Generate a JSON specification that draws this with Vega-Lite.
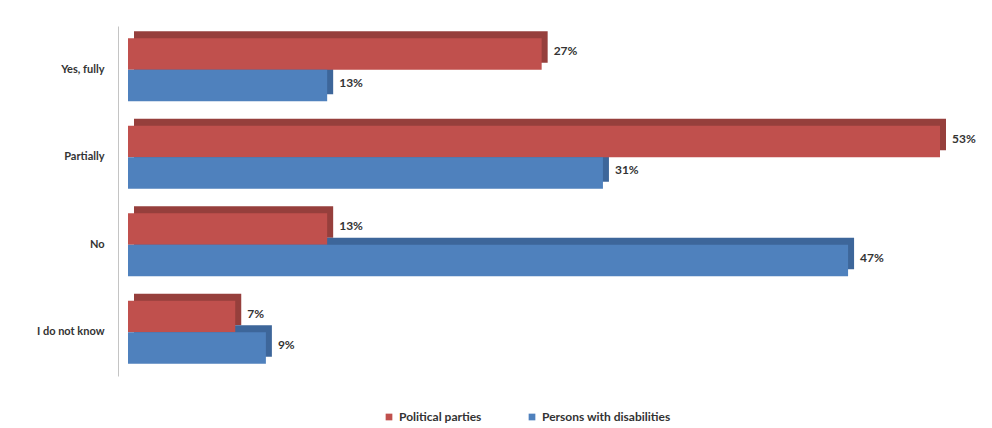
{
  "$schema": "https://vega.github.io/schema/vega-lite/v6.json",
  "width": 812,
  "height": 350,
  "autosize": {"type": "none"},
  "padding": {"left": 128, "top": 26, "right": 52, "bottom": 52},
  "background": "white",
  "config": {"view": {"stroke": null}, "font": "Lato"},
  "data": {"values": [
    {"category": "Yes, fully", "series": "Political parties", "value": 0.27},
    {"category": "Yes, fully", "series": "Persons with disabilities", "value": 0.13},
    {"category": "Partially", "series": "Political parties", "value": 0.53},
    {"category": "Partially", "series": "Persons with disabilities", "value": 0.31},
    {"category": "No", "series": "Political parties", "value": 0.13},
    {"category": "No", "series": "Persons with disabilities", "value": 0.47},
    {"category": "I do not know", "series": "Political parties", "value": 0.07},
    {"category": "I do not know", "series": "Persons with disabilities", "value": 0.09}
  ]},
  "resolve": {"scale": {"y": "independent", "yOffset": "independent"}},
  "layer": [
    {
      "mark": {"type": "bar", "xOffset": 6},
      "encoding": {
        "y": {"field": "category", "type": "nominal", "sort": ["Yes, fully", "Partially", "No", "I do not know"],
          "scale": {"paddingInner": 0.28, "paddingOuter": 0.14, "range": [-7, 343]},
          "axis": null},
        "yOffset": {"field": "series", "type": "nominal", "sort": ["Political parties", "Persons with disabilities"]},
        "x": {"field": "value", "type": "quantitative", "scale": {"domain": [0, 0.53], "nice": false}, "axis": null},
        "color": {"condition": {"test": "datum.series === 'Political parties'", "value": "#963f3c"}, "value": "#3d669a"}
      }
    },
    {
      "encoding": {
        "y": {"field": "category", "type": "nominal", "sort": ["Yes, fully", "Partially", "No", "I do not know"],
          "scale": {"paddingInner": 0.28, "paddingOuter": 0.14},
          "axis": {"title": null, "ticks": false, "domain": true, "domainColor": "#c4c4c4", "offset": 10, "labelPadding": 14, "labelFontSize": 11, "labelFontWeight": "bold", "labelColor": "#333333", "labelFont": "Lato"}},
        "yOffset": {"field": "series", "type": "nominal", "sort": ["Political parties", "Persons with disabilities"]},
        "x": {"field": "value", "type": "quantitative"}
      },
      "layer": [
        {
          "mark": {"type": "bar"},
          "encoding": {
            "color": {"field": "series", "type": "nominal", "sort": ["Political parties", "Persons with disabilities"],
              "scale": {"domain": ["Political parties", "Persons with disabilities"], "range": ["#c0504d", "#4f81bd"]},
              "legend": {"title": null, "orient": "none", "legendX": 255, "legendY": 385, "direction": "horizontal", "symbolType": "square", "symbolSize": 45, "labelFontSize": 12, "labelFontWeight": "bold", "labelColor": "#333333", "columnPadding": 44, "symbolStrokeWidth": 0}}
          }
        },
        {
          "mark": {"type": "text", "align": "left", "baseline": "middle", "dx": 12, "dy": -3, "fontSize": 12, "fontWeight": "bold", "color": "#333333"},
          "encoding": {
            "text": {"field": "value", "type": "quantitative", "format": ".0%"}
          }
        }
      ]
    }
  ]
}
